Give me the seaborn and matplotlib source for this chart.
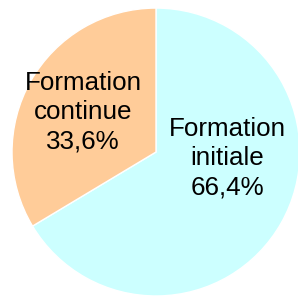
import matplotlib
matplotlib.use("Agg")
import matplotlib.pyplot as plt
import seaborn as sns

sns.set_style("white")
plt.rcParams['font.family'] = ['Liberation Sans', 'DejaVu Sans']

# data
categories = ["Formation\ninitiale", "Formation\ncontinue"]
shares = [66.4, 33.6]
colors = ["#CCFFFF", "#FFCC99"]

fig = plt.figure(figsize=(2.98, 2.98), dpi=100)
ax = fig.add_axes([0, 0, 1, 1])

wedges, _ = ax.pie(shares, colors=colors, startangle=90, counterclock=False,
                   wedgeprops=dict(edgecolor="white", linewidth=1.0))

# labels placed like the original
label_pos = [(0.493, -0.042), (-0.507, 0.278)]
for cat, val, (x, y) in zip(categories, shares, label_pos):
    txt = f"{cat}\n{val:.1f}%".replace(".", ",")
    ax.text(x, y, txt, ha="center", va="center", fontsize=18.7,
            linespacing=1.27, color="black")

ax.set_aspect("equal")
ax.set_xlim(-1.083, 0.986)
ax.set_ylim(-1.014, 1.056)
ax.axis("off")

fig.savefig("out.png", dpi=100)
